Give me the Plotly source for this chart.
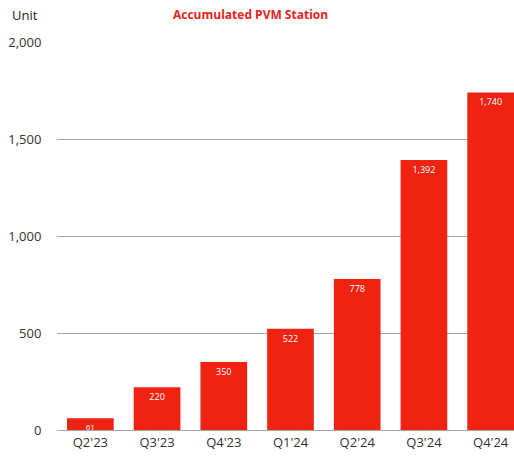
import plotly.graph_objects as go

# Data
quarters = ["Q2'23", "Q3'23", "Q4'23", "Q1'24", "Q2'24", "Q3'24", "Q4'24"]
stations = [61, 220, 350, 522, 778, 1392, 1740]
labels = ["61", "220", "350", "522", "778", "1,392", "1,740"]

bar_color = "#EE2312"

fig = go.Figure(go.Bar(
    x=quarters, y=stations, text=labels,
    textposition="inside", insidetextanchor="end", constraintext="none", textangle=0,
    textfont=dict(color="white", size=[8, 9, 9, 9, 9, 9, 9], family="Open Sans"),
    marker=dict(color=bar_color, line=dict(width=0)),
    cliponaxis=False,
))

fig.update_layout(
    width=514, height=457,
    margin=dict(l=57, r=0, t=42, b=27),
    plot_bgcolor="white", paper_bgcolor="white",
    bargap=0.3, showlegend=False,
    font=dict(family="Open Sans", color="#333333"),
    annotations=[
        dict(text="Unit", x=-0.103, y=1.0696, xref="paper", yref="paper", showarrow=False,
             xanchor="left", yanchor="middle", font=dict(size=13, color="#222222")),
        dict(text="<b>Accumulated PVM Station</b>", x=0.4245, y=1.0696, xref="paper", yref="paper",
             showarrow=False, xanchor="center", yanchor="middle",
             font=dict(color="#E8231A", size=12)),
    ],
)

fig.update_xaxes(range=[-0.5, 6.35], showline=False, ticks="", ticklabelstandoff=3,
                 tickfont=dict(size=13, color="#333333"))
fig.update_yaxes(range=[0, 2000], dtick=500, tickformat=",",
                 showgrid=True, gridcolor="#a6a6a6", gridwidth=1.3,
                 zeroline=True, zerolinecolor="#a6a6a6", zerolinewidth=1.3,
                 ticks="outside", ticklen=12, tickcolor="white",
                 tickfont=dict(size=13, color="#333333"))

# drop the default page margin so the figure fills the window
fig.write_html("out.html", config={"displayModeBar": False},
               post_script="document.body.style.margin='0';")
